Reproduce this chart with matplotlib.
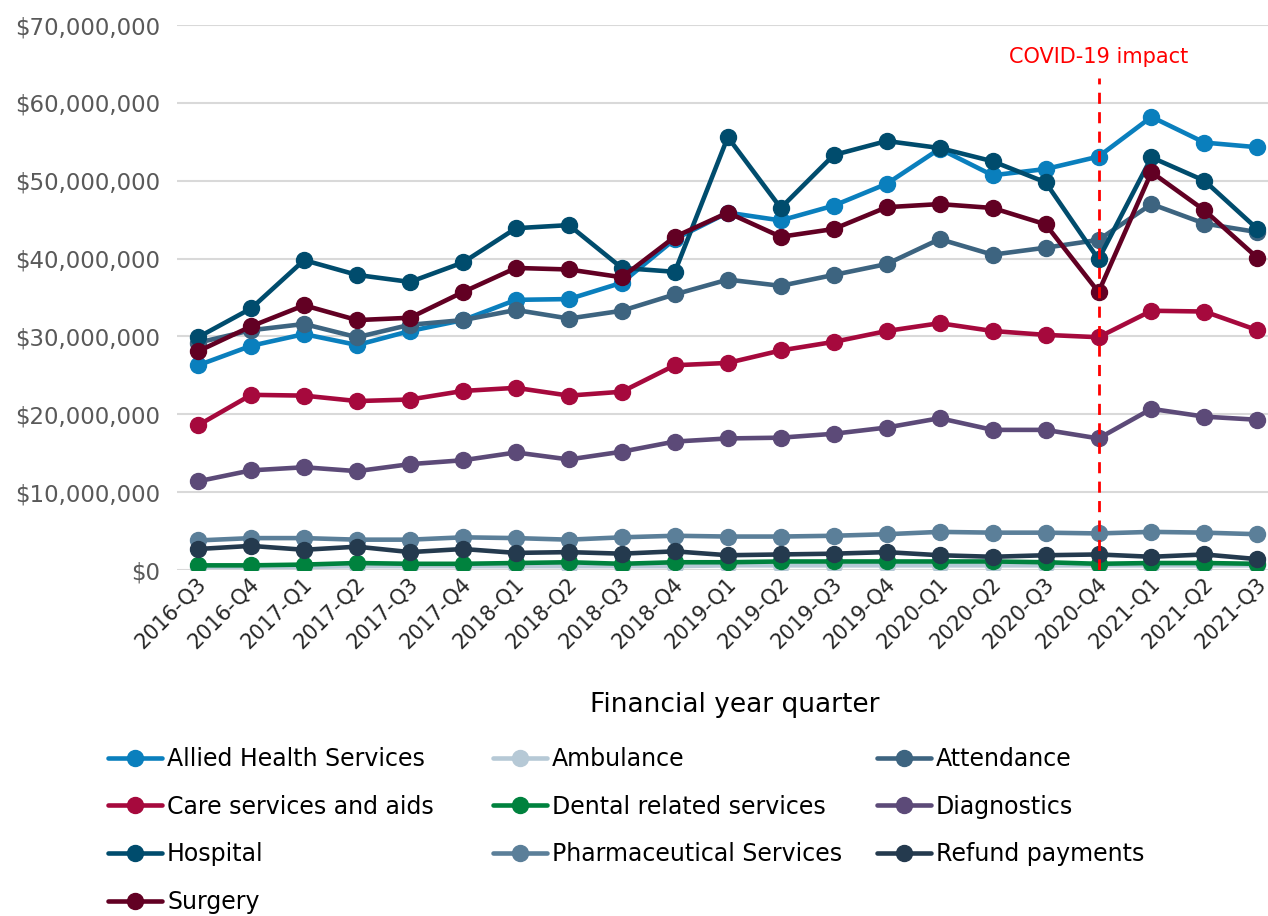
import numpy as np
import matplotlib.pyplot as plt
from matplotlib.ticker import FuncFormatter
from matplotlib.transforms import ScaledTranslation

quarters = ["2016-Q3", "2016-Q4", "2017-Q1", "2017-Q2", "2017-Q3", "2017-Q4",
            "2018-Q1", "2018-Q2", "2018-Q3", "2018-Q4", "2019-Q1", "2019-Q2",
            "2019-Q3", "2019-Q4", "2020-Q1", "2020-Q2", "2020-Q3", "2020-Q4",
            "2021-Q1", "2021-Q2", "2021-Q3"]

# quarterly payments, $ millions
allied_health = [26.3, 28.8, 30.3, 28.9, 30.7, 32.1, 34.7, 34.8, 36.9, 42.5, 45.9,
                 44.9, 46.8, 49.6, 54.1, 50.7, 51.5, 53.1, 58.2, 54.9, 54.3]
ambulance = [0.4, 0.4, 0.4, 0.5, 0.5, 0.5, 0.5, 0.5, 0.5, 0.5, 0.6,
             0.6, 0.6, 0.6, 0.6, 0.6, 0.6, 0.6, 0.6, 0.6, 0.6]
attendance = [29.2, 30.8, 31.6, 29.9, 31.5, 32.1, 33.4, 32.3, 33.3, 35.4, 37.3,
              36.5, 37.9, 39.3, 42.5, 40.5, 41.4, 42.4, 47.0, 44.5, 43.4]
care_services = [18.6, 22.5, 22.4, 21.7, 21.9, 23.0, 23.4, 22.4, 22.9, 26.3, 26.6,
                 28.2, 29.3, 30.7, 31.7, 30.7, 30.2, 29.9, 33.3, 33.2, 30.8]
dental = [0.6, 0.6, 0.7, 0.9, 0.8, 0.8, 0.9, 1.0, 0.8, 1.0, 1.0,
          1.1, 1.1, 1.1, 1.1, 1.1, 1.0, 0.8, 0.9, 0.9, 0.8]
diagnostics = [11.4, 12.8, 13.2, 12.7, 13.6, 14.1, 15.1, 14.2, 15.2, 16.5, 16.9,
               17.0, 17.5, 18.3, 19.5, 18.0, 18.0, 16.9, 20.7, 19.7, 19.3]
hospital = [29.9, 33.6, 39.8, 37.9, 37.0, 39.5, 43.9, 44.3, 38.8, 38.3, 55.6,
            46.5, 53.3, 55.1, 54.2, 52.5, 49.8, 39.9, 53.0, 50.0, 43.8]
pharmaceutical = [3.8, 4.1, 4.1, 3.9, 3.9, 4.2, 4.1, 3.9, 4.2, 4.4, 4.3,
                  4.3, 4.4, 4.6, 4.9, 4.8, 4.8, 4.7, 4.9, 4.8, 4.6]
refund = [2.7, 3.1, 2.6, 3.0, 2.3, 2.7, 2.2, 2.3, 2.1, 2.4, 1.9,
          2.0, 2.1, 2.3, 1.9, 1.7, 1.9, 2.0, 1.7, 2.0, 1.4]
surgery = [28.1, 31.3, 34.0, 32.1, 32.4, 35.7, 38.8, 38.6, 37.6, 42.8, 45.9,
           42.8, 43.8, 46.6, 47.0, 46.5, 44.4, 35.7, 51.1, 46.2, 40.1]

series = [
    ("Allied Health Services", allied_health, "#0a7fbd"),
    ("Ambulance", ambulance, "#b6c9d6"),
    ("Attendance", attendance, "#3d6480"),
    ("Care services and aids", care_services, "#a6093d"),
    ("Dental related services", dental, "#00823e"),
    ("Diagnostics", diagnostics, "#5c4a78"),
    ("Hospital", hospital, "#004c6d"),
    ("Pharmaceutical Services", pharmaceutical, "#5b7f99"),
    ("Refund payments", refund, "#243a4e"),
    ("Surgery", surgery, "#620023"),
]

covid_quarter = "2020-Q4"

plt.rcParams["font.family"] = ["DejaVu Sans"]

fig = plt.figure(figsize=(12.68, 9.16), dpi=100)
ax = fig.add_axes([0.1396, 0.3777, 0.8604, 0.595])

x = np.arange(len(quarters))
handles = {}
for name, vals, col in series:
    line, = ax.plot(x, np.array(vals) * 1e6, color=col, lw=3.3, marker="o",
                    markersize=11.5, solid_capstyle="round", label=name)
    handles[name] = line

# COVID-19 marker line
ci = quarters.index(covid_quarter)
ax.vlines(ci, 0, 63.2e6, colors="#ff0000", linestyles=(0, (4, 3)), lw=2, zorder=5)
ax.text(ci, 65.9e6, "COVID-19 impact", color="#ff0000", ha="center", va="center",
        fontsize=15)

ax.set_ylim(0, 70e6)
ax.set_xlim(-0.4, 20.2)
ax.set_yticks(np.arange(0, 70e6 + 1, 10e6))
ax.yaxis.set_major_formatter(FuncFormatter(lambda v, p: f"${v:,.0f}"))
ax.set_xticks(x)
ax.set_xticklabels(quarters, rotation=45, ha="right", va="center",
                   rotation_mode="anchor")
ax.tick_params(axis="y", labelsize=16.5, labelcolor="#595959", length=0, pad=12)
ax.tick_params(axis="x", labelsize=15, labelcolor="#262626", length=0, pad=8)
# nudge the slanted quarter labels a little to the right
shift = ScaledTranslation(5 / 100, 0, fig.dpi_scale_trans)
for lbl in ax.get_xticklabels():
    lbl.set_transform(lbl.get_transform() + shift)
ax.grid(axis="y", color="#d9d9d9", lw=1.5)
ax.set_axisbelow(True)
for s in ax.spines.values():
    s.set_visible(False)

fig.text(735 / 1268, 1 - 705 / 916, "Financial year quarter", ha="center",
         va="center", fontsize=19)

# legend laid out in three columns, filled row by row
cols = [
    ["Allied Health Services", "Care services and aids", "Hospital", "Surgery"],
    ["Ambulance", "Dental related services", "Pharmaceutical Services"],
    ["Attendance", "Diagnostics", "Refund payments"],
]
col_x = [108, 493, 877]
for cx, names in zip(col_x, cols):
    fig.legend([handles[n] for n in names], names, loc="upper left",
               bbox_to_anchor=(cx / 1268, 1 - 747 / 916), frameon=False,
               fontsize=17, handlelength=2.3, handletextpad=0.2,
               labelspacing=1.0, borderpad=0, borderaxespad=0)

fig.savefig("out.png", dpi=100)
